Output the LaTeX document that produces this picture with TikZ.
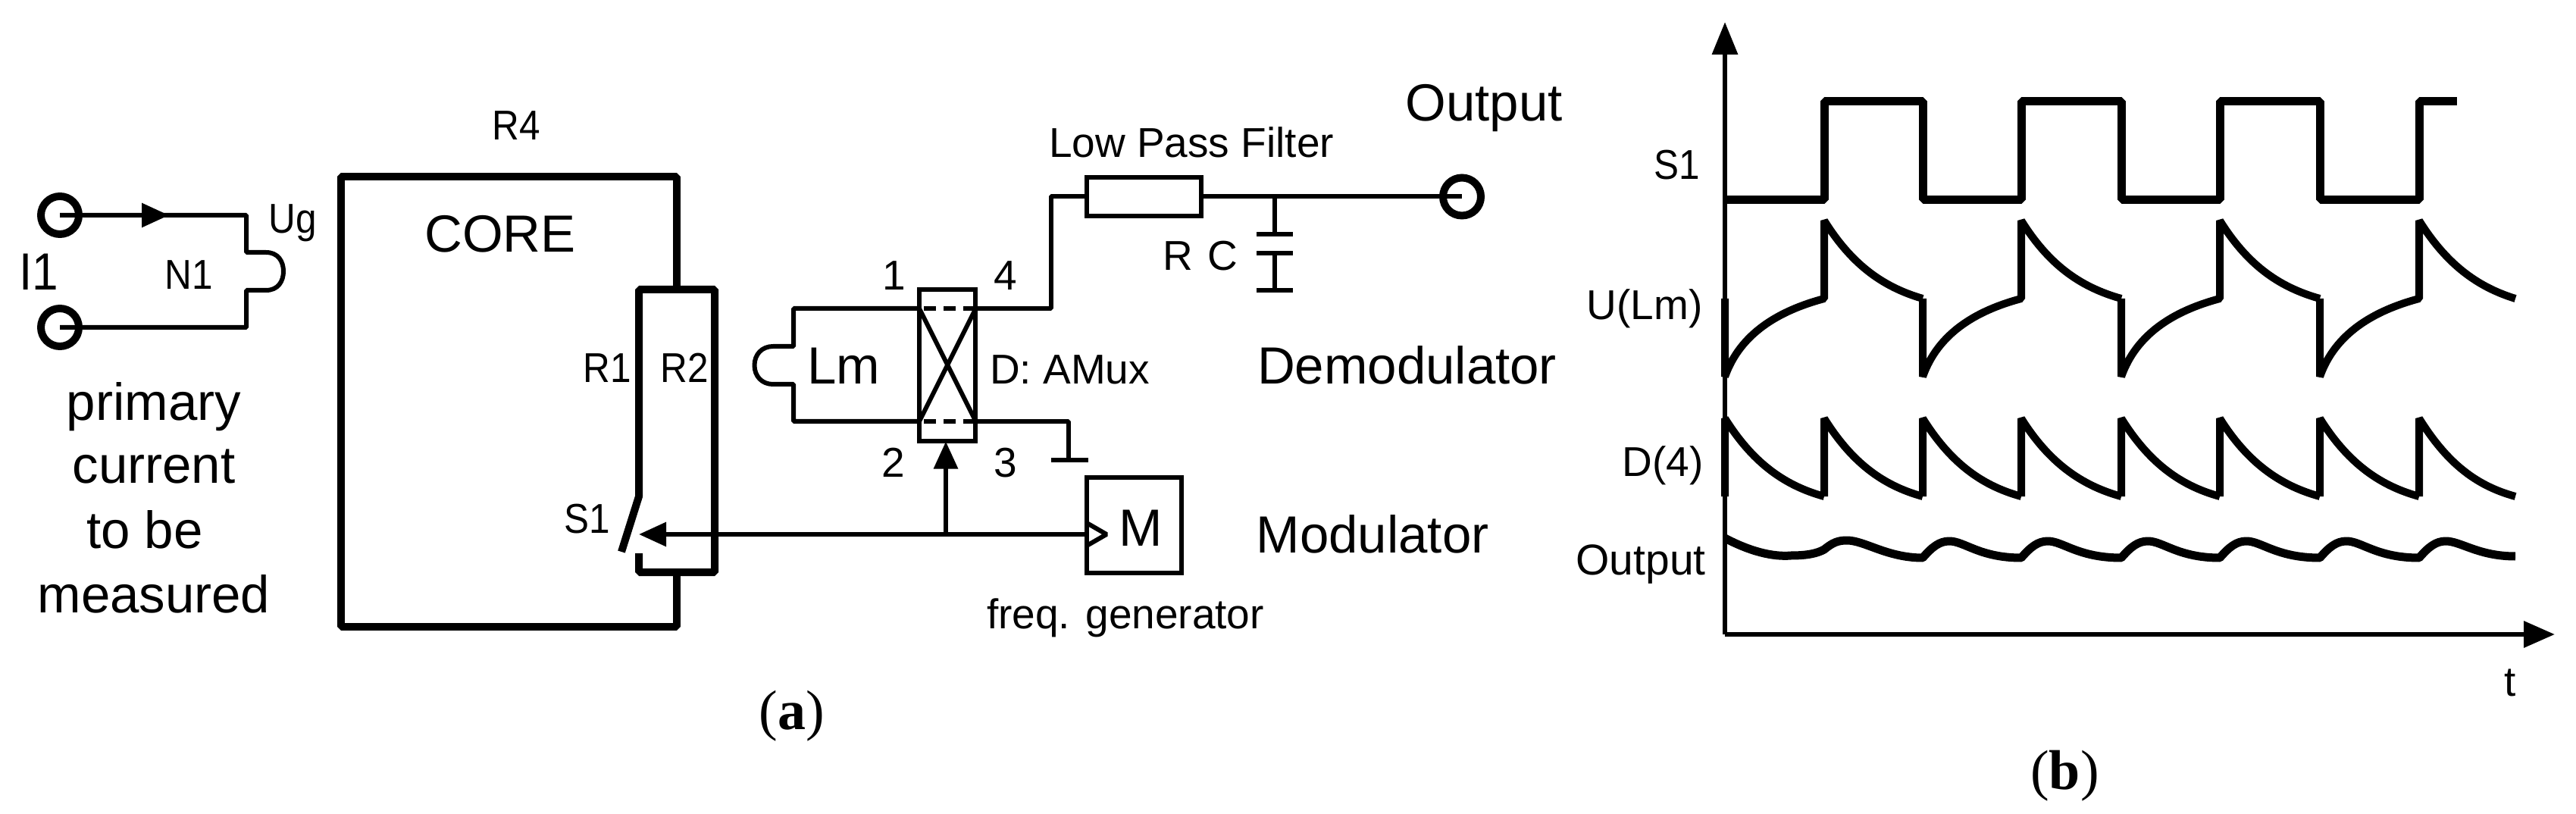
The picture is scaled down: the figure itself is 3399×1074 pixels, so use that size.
\documentclass[tikz,border=0pt]{standalone}
\usepackage{fontspec}
\setmainfont{Liberation Sans}
\newfontfamily\capfont{Liberation Serif}
\usetikzlibrary{arrows.meta}
\newcommand{\nrw}[1]{\scalebox{.9}[1]{#1}}
\tikzset{
  thin wire/.style={draw=black,line width=3pt,line join=bevel},
  thick wire/.style={draw=black,line width=5pt,line join=bevel},
  axis/.style={draw=black,line width=3.2pt},
  txt/.style={anchor=base,inner sep=0pt,outer sep=0pt,text=black},
  lab/.style={txt,font=\fontsize{27.5}{33}\selectfont},
  big/.style={txt,font=\fontsize{34.5}{41}\selectfont},
  capt/.style={txt,font=\capfont\fontsize{37}{44}\selectfont},
  term/.style={circle,draw=black,line width=5pt,minimum size=25pt,inner sep=0pt,outer sep=0pt},
  box/.style={rectangle,draw=black,line width=3pt,inner sep=0pt,outer sep=0pt},
  head/.style={-{Triangle[length=18pt,width=15.5pt]}}
}
\begin{document}
\begin{tikzpicture}[x=0.5pt,y=-0.5pt]
\useasboundingbox (0,0) rectangle (3399,1074);
\fill[white] (0,0) rectangle (3399,1074);
% primary side
\node[term] (t1) at (79,284) {};
\node[term] (t2) at (79,432) {};
\coordinate (a1) at (223,284);
\coordinate (w1) at (325,284);
\coordinate (w2) at (325,333);
\coordinate (b1) at (351,333);
\coordinate (b2) at (374,358);
\coordinate (b3) at (351,383);
\coordinate (w3) at (325,383);
\coordinate (w4) at (325,432);
\draw[thin wire] (t1.center) -- (w1) -- (w2) -- (b1) .. controls (367,333) and (374,345) .. (b2) .. controls (374,371) and (367,383) .. (b3) -- (w3) -- (w4) -- (t2.center);
\draw[thin wire,head] (t1.center) -- (a1);
\node[big] (i1) at (51,383) {\nrw{I1}};
\node[lab] (n1) at (249,382) {\nrw{N1}};
\node[lab] (ug) at (386,308) {\nrw{Ug}};
\node[big] (l1) at (203,555) {primary};
\node[big] (l2) at (203,638) {current};
\node[big] (l3) at (191,723) {to be};
\node[big] (l4) at (203,808) {measured};
% core
\coordinate (c1) at (893,382);
\coordinate (c2) at (893,233);
\coordinate (c3) at (450,233);
\coordinate (c4) at (450,827);
\coordinate (c5) at (893,827);
\coordinate (c6) at (893,755);
\draw[thick wire] (c1) -- (c2) -- (c3) -- (c4) -- (c5) -- (c6);
\coordinate (r1) at (843,655);
\coordinate (r2) at (843,382);
\coordinate (r3) at (943,382);
\coordinate (r4) at (943,755);
\coordinate (r5) at (843,755);
\coordinate (r6) at (843,730);
\coordinate (sw) at (820,728);
\draw[thick wire] (sw) -- (r1) -- (r2) -- (r3) -- (r4) -- (r5) -- (r6);
\node[lab] (tr4) at (681,185) {\nrw{R4}};
\node[big] (core) at (660,333) {CORE};
\node[lab] (tr1) at (801,505) {\nrw{R1}};
\node[lab] (tr2) at (903,505) {\nrw{R2}};
\node[lab] (ts1) at (775,703) {\nrw{S1}};
% demodulator
\node[box,minimum width=37.25pt,minimum height=100pt] (mux) at (1250,482.5) {};
\coordinate (m1) at (1213,407);
\coordinate (m2) at (1213,556);
\coordinate (m3) at (1287.5,556);
\coordinate (m4) at (1287.5,407);
\draw[thin wire] (m1) -- (m3);
\draw[thin wire] (m4) -- (m2);
\draw[thin wire,dash pattern=on 8pt off 5pt,dash phase=-3pt] (m1) -- (m4);
\draw[thin wire,dash pattern=on 8pt off 5pt,dash phase=-3pt] (m2) -- (m3);
\draw[thin wire] (m1) -- (1047,407) -- (1047,457) -- (1020,457) .. controls (1005,457) and (995.5,468) .. (995.5,482) .. controls (995.5,496) and (1005,507) .. (1020,507) -- (1047,507) -- (1047,556) -- (m2);
\node[box,minimum width=75.5pt,minimum height=25.5pt] (res) at (1509.5,259.5) {};
\draw[thin wire] (m4) -- (1386.5,407) -- (1386.5,259.5) -- (res.west);
\node[term] (out) at (1929,259.5) {};
\draw[thin wire] (res.east) -- (out.center);
\coordinate (cj) at (1681.5,259.5);
\coordinate (cp1) at (1681.5,309);
\coordinate (cp2) at (1681.5,334);
\coordinate (cb) at (1681.5,383.5);
\draw[thin wire] (cj) -- (cp1);
\draw[thin wire] (cp2) -- (cb);
\draw[thin wire] (1658,309) -- (1706,309);
\draw[thin wire] (1658,334) -- (1706,334);
\draw[thin wire] (1658,383.5) -- (1706,383.5);
\coordinate (gj) at (1410,556);
\coordinate (gb) at (1410,606.5);
\draw[thin wire] (m3) -- (gj) -- (gb);
\draw[thin wire] (1386.5,606.5) -- (1436,606.5);
\node[lab] (lpf) at (1572,208) {Low Pass Filter};
\node[big] (tout) at (1958,159.5) {Output};
\node[lab] (tR) at (1554,357) {R};
\node[lab] (tC) at (1613,357) {C};
\node[lab] (p1) at (1180,382.5) {1};
\node[lab] (p4) at (1327,382.5) {4};
\node[lab] (p2) at (1179,630) {2};
\node[lab] (p3) at (1327,630) {3};
\node[big] (lm) at (1113.5,506.5) {Lm};
\node[lab] (amux) at (1411.5,506.5) {D: AMux};
\node[big] (dem) at (1856.5,506.5) {Demodulator};
% modulator
\node[box,minimum width=62.5pt,minimum height=63pt] (mbox) at (1496.5,693) {};
\draw[thin wire] (1434,690) -- (1460,705) -- (1434,720);
\coordinate (mj) at (1248,705);
\coordinate (swa) at (843,705);
\coordinate (mi) at (1434,705);
\draw[thin wire,head] (mi) -- (swa);
\draw[thin wire,head] (mj) -- (mj |- mux.south);
\node[big] (tm) at (1505,720) {M};
\node[big] (mod) at (1811,729) {Modulator};
\node[lab] (fg) at (1485,829) {freq. generator};
% captions
\node[capt] (ca) at (1045,962) {(\textbf{a})};
\node[capt] (cb2) at (2724.5,1041) {(\textbf{b})};
% axes
\coordinate (o) at (2276,837);
\coordinate (yt) at (2276,29);
\coordinate (xt) at (3371,837);
\draw[axis,-{Triangle[length=21.5pt,width=16.5pt]}] (o) -- (yt);
\draw[axis,-{Triangle[length=20.5pt,width=17pt]}] (o) -- (xt);
\node[lab] (tt) at (3312,918) {t};
\node[lab] (ls1) at (2213,237) {\nrw{S1}};
\node[lab] (lu) at (2170,422) {U(Lm)};
\node[lab] (ld) at (2194,628) {D(4)};
\node[txt,font=\fontsize{28.5}{33}\selectfont] (lo) at (2165,758) {Output};
% S1 trace
\draw[thick wire,line width=5.5pt] (2276,264) -- (2407,264) -- (2407,134) -- (2537,134) -- (2537,264) -- (2667,264) -- (2667,134) -- (2799,134) -- (2799,264) -- (2929,264) -- (2929,134) -- (3061,134) -- (3061,264) -- (3192,264) -- (3192,134) -- (3242,134);
% U(Lm) trace
\foreach \xa/\xb/\xc in {2276/2407/2537,2537/2667/2799,2799/2929/3061,3061/3192/3319}{
  \draw[thick wire] (\xa,394) -- (\xa,497) .. controls (\xa+20,440) and (\xb-60,410) .. (\xb,394) -- (\xb,291) .. controls (\xb+35,347) and (\xb+75,378) .. (\xc,394);
}
% D(4) trace
\foreach \xa/\xb in {2276/2407,2407/2537,2537/2667,2667/2799,2799/2929,2929/3061,3061/3192,3192/3319}{
  \draw[thick wire] (\xa,655) -- (\xa,552) .. controls (\xa+35,608) and (\xb-55,640) .. (\xb,655);
}
% Output trace
\draw[thick wire,line width=5.5pt] (2276,710) .. controls (2310,728) and (2340,735) .. (2363,733) .. controls (2385,733) and (2398,730) .. (2407,725) .. controls (2418,716) and (2425,713) .. (2437,713) .. controls (2460,713) and (2490,736) .. (2537,736)
\foreach \xa/\xb in {2537/2667,2667/2799,2799/2929,2929/3061,3061/3192}{
  .. controls (\xa+12,722) and (\xa+22,714) .. (\xa+35,714) .. controls (\xa+55,714) and (\xa+75,736) .. (\xb,736)
}
.. controls (3204,722) and (3214,714) .. (3227,714) .. controls (3247,714) and (3270,734) .. (3319,734);
\end{tikzpicture}
\end{document}
